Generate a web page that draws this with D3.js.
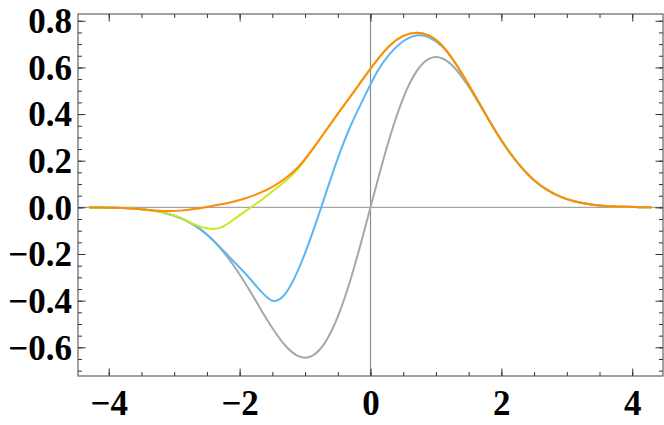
<!DOCTYPE html>
<html>
<head>
  <meta charset="utf-8">
  <title>Curves</title>
  <script src="https://d3js.org/d3.v7.min.js"></script>
  <style>
    body { margin: 0; background: #fff; }
    .tick text { font-family: "Liberation Serif", "Times New Roman", serif; font-weight: bold; font-size: 35px; fill: #000; }
    .tick line { stroke: #333; }
    .curve { fill: none; stroke-width: 2px; stroke-linejoin: round; }
  </style>
</head>
<body>
  <svg id="chart" width="664" height="425"></svg>

  <script>
    // sample points shared by all curves
    var xs = [-4.3, -4.1, -3.9, -3.7, -3.5, -3.3, -3.1, -2.9, -2.7, -2.5, -2.3, -2.1,
              -1.9, -1.7, -1.5, -1.3, -1.1, -0.9, -0.7, -0.5, -0.3, -0.1,
               0.1, 0.3, 0.5, 0.7, 0.9, 1.1, 1.3, 1.5, 1.7, 1.9, 2.1,
               2.3, 2.5, 2.7, 2.9, 3.1, 3.3, 3.5, 3.7, 3.9, 4.1, 4.3];

    var grayVals = [-0.0004, -0.0010, -0.0021, -0.0042, -0.0081, -0.0151, -0.0270, -0.0460, -0.0749, -0.1167, -0.1735, -0.2461,
                    -0.3320, -0.4257, -0.5174, -0.5933, -0.6381, -0.6377, -0.5820, -0.4688, -0.3047, -0.1057,
                     0.1057, 0.3047, 0.4688, 0.5820, 0.6377, 0.6381, 0.5933, 0.5174, 0.4257, 0.3320, 0.2461,
                     0.1735, 0.1167, 0.0749, 0.0460, 0.0270, 0.0151, 0.0081, 0.0042, 0.0021, 0.0010, 0.0004];

    var blueVals = [-0.0004, -0.0010, -0.0021, -0.0042, -0.0081, -0.0151, -0.0270, -0.0460, -0.0749, -0.1163, -0.1705, -0.2290,
                    -0.2880, -0.3520, -0.4000, -0.3700, -0.2650, -0.1200, 0.0450, 0.2100, 0.3520, 0.4700,
                     0.5800, 0.6600, 0.7120, 0.7370, 0.7280, 0.6880, 0.6170, 0.5260, 0.4280, 0.3320, 0.2461,
                     0.1735, 0.1167, 0.0749, 0.0460, 0.0270, 0.0151, 0.0081, 0.0042, 0.0021, 0.0010, 0.0004];

    var yellowVals = [-0.0004, -0.0010, -0.0021, -0.0042, -0.0081, -0.0151, -0.0268, -0.0450, -0.0720, -0.0900, -0.0880, -0.0540,
                      -0.0140, 0.0250, 0.0680, 0.1130, 0.1680, 0.2420, 0.3220, 0.4010, 0.4780, 0.5560,
                       0.6310, 0.6950, 0.7350, 0.7490, 0.7360, 0.6920, 0.6170, 0.5260, 0.4280, 0.3320, 0.2461,
                       0.1735, 0.1167, 0.0749, 0.0460, 0.0270, 0.0151, 0.0081, 0.0042, 0.0021, 0.0010, 0.0004];

    var orangeVals = [-0.0004, -0.0010, -0.0020, -0.0042, -0.0080, -0.0130, -0.0160, -0.0140, -0.0070, 0.0020, 0.0120, 0.0240,
                       0.0400, 0.0610, 0.0880, 0.1250, 0.1740, 0.2440, 0.3220, 0.4010, 0.4780, 0.5560,
                       0.6310, 0.6950, 0.7350, 0.7490, 0.7360, 0.6920, 0.6170, 0.5260, 0.4280, 0.3320, 0.2461,
                       0.1735, 0.1167, 0.0749, 0.0460, 0.0270, 0.0151, 0.0081, 0.0042, 0.0021, 0.0010, 0.0004];

    var series = [
      { name: "gray", color: "#a0aaaa", values: grayVals },
      { name: "blue", color: "#5cb6f0", values: blueVals },
      { name: "yellow", color: "#c9e81e", values: yellowVals },
      { name: "orange", color: "#ff8a0a", values: orangeVals }
    ];

    var xMajor = [-4, -2, 0, 2, 4];
    var xMinor = [-4, -3.5, -3, -2.5, -2, -1.5, -1, -0.5, 0, 0.5, 1, 1.5, 2, 2.5, 3, 3.5, 4];
    var yMajor = [-0.6, -0.4, -0.2, 0.0, 0.2, 0.4, 0.6, 0.8];
    var yMinor = [-0.7, -0.65, -0.6, -0.55, -0.5, -0.45, -0.4, -0.35, -0.3, -0.25, -0.2, -0.15, -0.1, -0.05, 0,
                  0.05, 0.1, 0.15, 0.2, 0.25, 0.3, 0.35, 0.4, 0.45, 0.5, 0.55, 0.6, 0.65, 0.7, 0.75, 0.8];

    var svg = d3.select("#chart");
    var plotL = 78, plotR = 663, plotT = 14, plotB = 376;

    var x = d3.scaleLinear().domain([-4.47, 4.47]).range([plotL, plotR]);
    var y = d3.scaleLinear().domain([-0.723, 0.829]).range([plotB, plotT]);

    // zero axes
    svg.append("line")
      .attr("x1", plotL).attr("x2", plotR)
      .attr("y1", y(0)).attr("y2", y(0))
      .attr("stroke", "#a6a6a6").attr("stroke-width", 1.2);
    svg.append("line")
      .attr("x1", x(0)).attr("x2", x(0))
      .attr("y1", plotT).attr("y2", plotB)
      .attr("stroke", "#8c8c8c").attr("stroke-width", 1.2);

    // curves
    var line = d3.line()
      .x(function(d) { return x(d[0]); })
      .y(function(d) { return y(d[1]); })
      .curve(d3.curveNatural);

    series.forEach(function(s) {
      var pts = xs.map(function(v, i) { return [v, s.values[i]]; });
      svg.append("path")
        .attr("class", "curve")
        .attr("stroke", s.color)
        .attr("d", line(pts));
    });

    // ticks on all four sides, pointing inward
    function addAxis(axisFn, scale, values, size, translate, withLabels, fmt, pad) {
      var a = axisFn(scale).tickValues(values).tickSize(-size).tickSizeOuter(0).tickPadding(pad || 0)
        .tickFormat(withLabels ? d3.format(fmt) : "");
      var g = svg.append("g").attr("transform", translate).call(a);
      g.select(".domain").remove();
      return g;
    }

    addAxis(d3.axisBottom, x, xMinor, 4, "translate(0," + plotB + ")", false);
    addAxis(d3.axisBottom, x, xMajor, 7.5, "translate(0," + plotB + ")", true, "d", 14);
    addAxis(d3.axisTop, x, xMinor, 4, "translate(0," + plotT + ")", false);
    addAxis(d3.axisTop, x, xMajor, 7.5, "translate(0," + plotT + ")", false);

    addAxis(d3.axisLeft, y, yMinor, 4, "translate(" + plotL + ",0)", false);
    var yl = addAxis(d3.axisLeft, y, yMajor, 7.5, "translate(" + plotL + ",0)", true, ".1f", 6);
    yl.selectAll("text").attr("dy", "0.34em");
    addAxis(d3.axisRight, y, yMinor, 4, "translate(" + plotR + ",0)", false);
    addAxis(d3.axisRight, y, yMajor, 7.5, "translate(" + plotR + ",0)", false);

    // frame
    svg.append("rect")
      .attr("x", plotL).attr("y", plotT)
      .attr("width", plotR - plotL).attr("height", plotB - plotT)
      .attr("fill", "none").attr("stroke", "#444").attr("stroke-width", 1);
  </script>
</body>
</html>
